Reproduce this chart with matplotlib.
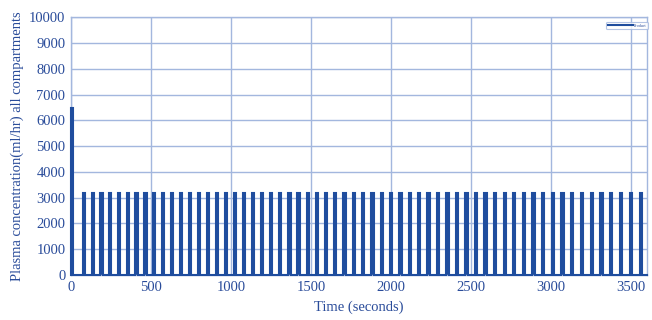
import numpy as np
import matplotlib
matplotlib.use("Agg")
import matplotlib.pyplot as plt

# Initial loading dose (time span in s, concentration)
bolus_start = 0
bolus_end = 14
bolus_level = 6500

# Maintenance pulses: centre times (s) and concentration
pulse_times = [81, 136, 190, 245, 300, 355, 410, 465, 520, 576,
               631, 687, 743, 799, 855, 911, 967, 1024, 1080, 1137,
               1194, 1250, 1307, 1365, 1422, 1479, 1537, 1594, 1652, 1710,
               1768, 1826, 1884, 1942, 2001, 2059, 2118, 2176, 2235, 2294,
               2353, 2413, 2472, 2532, 2591, 2651, 2711, 2771, 2831, 2891,
               2951, 3012, 3072, 3133, 3194, 3255, 3316, 3377, 3438, 3499,
               3561]
pulse_level = 3200
pulse_width = 14

x_ticks = [0, 500, 1000, 1500, 2000, 2500, 3000, 3500]
y_ticks = [0, 1000, 2000, 3000, 4000, 5000, 6000, 7000, 8000, 9000, 10000]

line_color = "#1f4d9e"
text_color = "#2a4c9a"
grid_color = "#a3b7de"

plt.rcParams["font.family"] = ["Liberation Serif", "DejaVu Serif"]

# build the step profile
t = [bolus_start, bolus_start, bolus_end, bolus_end]
c = [0, bolus_level, bolus_level, 0]
for p in pulse_times:
    t += [p - pulse_width / 2, p - pulse_width / 2, p + pulse_width / 2, p + pulse_width / 2]
    c += [0, pulse_level, pulse_level, 0]
t.append(3600)
c.append(0)

fig = plt.figure(figsize=(6.52, 3.2), dpi=100)
ax = fig.add_axes([0.1089, 0.1406, 0.8834, 0.8053])

ax.fill_between(t, c, 0, color=line_color, linewidth=0)
ax.plot(t, c, color=line_color, linewidth=1.5, label="Product",
        solid_joinstyle="miter", clip_on=False, zorder=3)

ax.set_xlim(0, 3600)
ax.set_ylim(0, 10000)
ax.set_xticks(x_ticks)
ax.set_yticks(y_ticks)
ax.grid(True, color=grid_color, linewidth=1.0)
ax.set_axisbelow(True)
for s in ax.spines.values():
    s.set_color(grid_color)
    s.set_linewidth(1.0)
ax.tick_params(length=0, colors=text_color, labelsize=10.5, pad=4)

ax.set_xlabel("Time (seconds)", color=text_color, fontsize=10.5, labelpad=5)
ax.set_ylabel("Plasma concentration(ml/hr) all compartments", color=text_color,
              fontsize=10.5, labelpad=4)

leg = ax.legend(loc="upper right", bbox_to_anchor=(1.002, 0.982), borderaxespad=0,
                fontsize=3, frameon=True, handlelength=6, handletextpad=0.3,
                borderpad=0.4, fancybox=True)
leg.get_frame().set_edgecolor(grid_color)
leg.get_frame().set_linewidth(0.8)
for txt in leg.get_texts():
    txt.set_color(text_color)

fig.savefig("out.png", dpi=100)
